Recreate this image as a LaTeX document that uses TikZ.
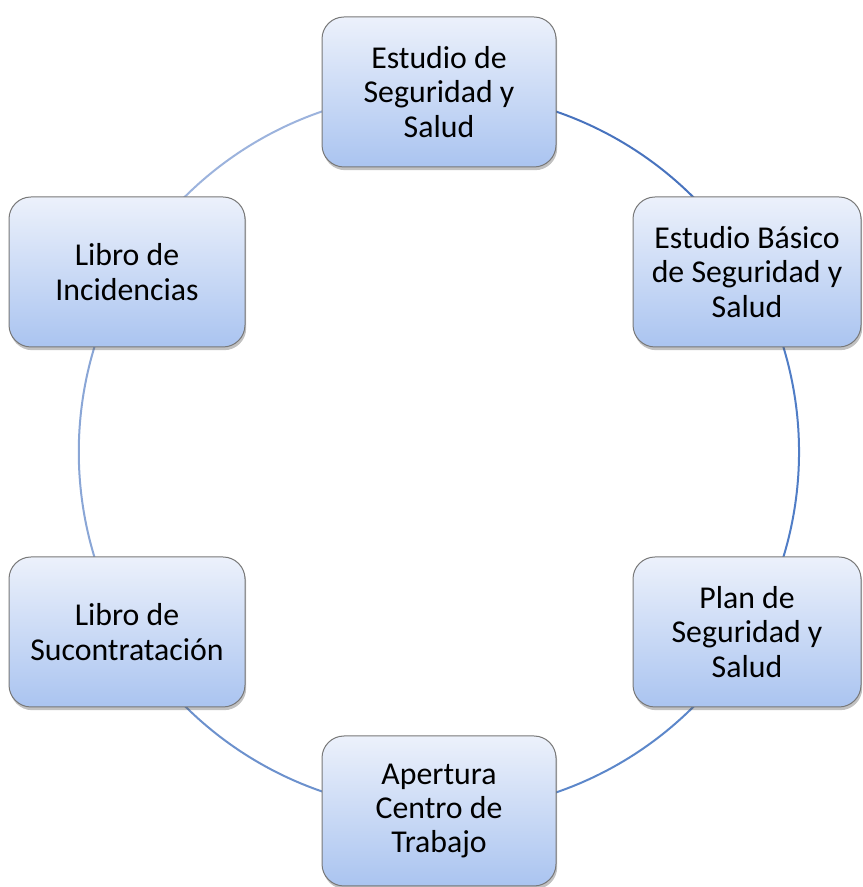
\documentclass[tikz,border=0pt]{standalone}
\usepackage{fontspec}
\setmainfont{Carlito}
\usetikzlibrary{positioning, shapes, shadows, backgrounds}
\usepackage{xcolor}

\definecolor{boxtop}{RGB}{236,241,251}
\definecolor{boxbot}{RGB}{170,196,240}
\definecolor{boxline}{RGB}{120,120,120}
\definecolor{arcA}{RGB}{72,115,190}
\definecolor{arcB}{RGB}{80,125,198}
\definecolor{arcC}{RGB}{92,135,202}
\definecolor{arcD}{RGB}{108,145,205}
\definecolor{arcE}{RGB}{138,166,214}
\definecolor{arcF}{RGB}{156,179,221}

\tikzset{
  stage/.style={draw=boxline, line width=0.5pt, rectangle, rounded corners=11pt,
    align=center, top color=boxtop, bottom color=boxbot, text=black,
    minimum width=117pt, minimum height=75pt, inner sep=2pt,
    font=\fontsize{15.9}{17.1}\selectfont,
    drop shadow={shadow xshift=0.6pt, shadow yshift=-1.6pt, opacity=0.35, fill=black!70}},
  cyc/.style={line width=1pt}
}

\begin{document}
\begin{tikzpicture}[x=0.5pt, y=0.5pt]
    \useasboundingbox (0,0) rectangle (862,887);
    % Nodes for the safety documents cycle
    \node[stage] (ESS) at (439,795) {Estudio de\\ Seguridad y\\ Salud};
    \node[stage, minimum width=114pt] (EBSS) at (747,615) {Estudio Básico\\ de Seguridad y\\ Salud};
    \node[stage, minimum width=114pt] (PSS) at (747,255) {Plan de\\ Seguridad y\\ Salud};
    \node[stage] (ACT) at (439,76) {Apertura\\ Centro de\\ Trabajo};
    \node[stage, minimum width=118pt] (LS) at (127,255) {Libro de\\ Sucontratación};
    \node[stage, minimum width=118pt] (LI) at (127,615) {Libro de\\ Incidencias};

    % Arcs of the cycle, behind the boxes
    \begin{pgfonlayer}{background}
    \draw[cyc, arcA] (ESS.center) arc[start angle=90, end angle=30, radius=180pt];
    \draw[cyc, arcB] ([xshift=1.9pt]EBSS.center) arc[start angle=30, end angle=-30, radius=180pt];
    \draw[cyc, arcC] ([xshift=1.9pt]PSS.center) arc[start angle=-30, end angle=-90, radius=180pt];
    \draw[cyc, arcD] (ACT.center) arc[start angle=-90, end angle=-150, radius=180pt];
    \draw[cyc, arcE] (LS.center) arc[start angle=210, end angle=150, radius=180pt];
    \draw[cyc, arcF] (LI.center) arc[start angle=150, end angle=90, radius=180pt];
    \end{pgfonlayer}
\end{tikzpicture}
\end{document}
